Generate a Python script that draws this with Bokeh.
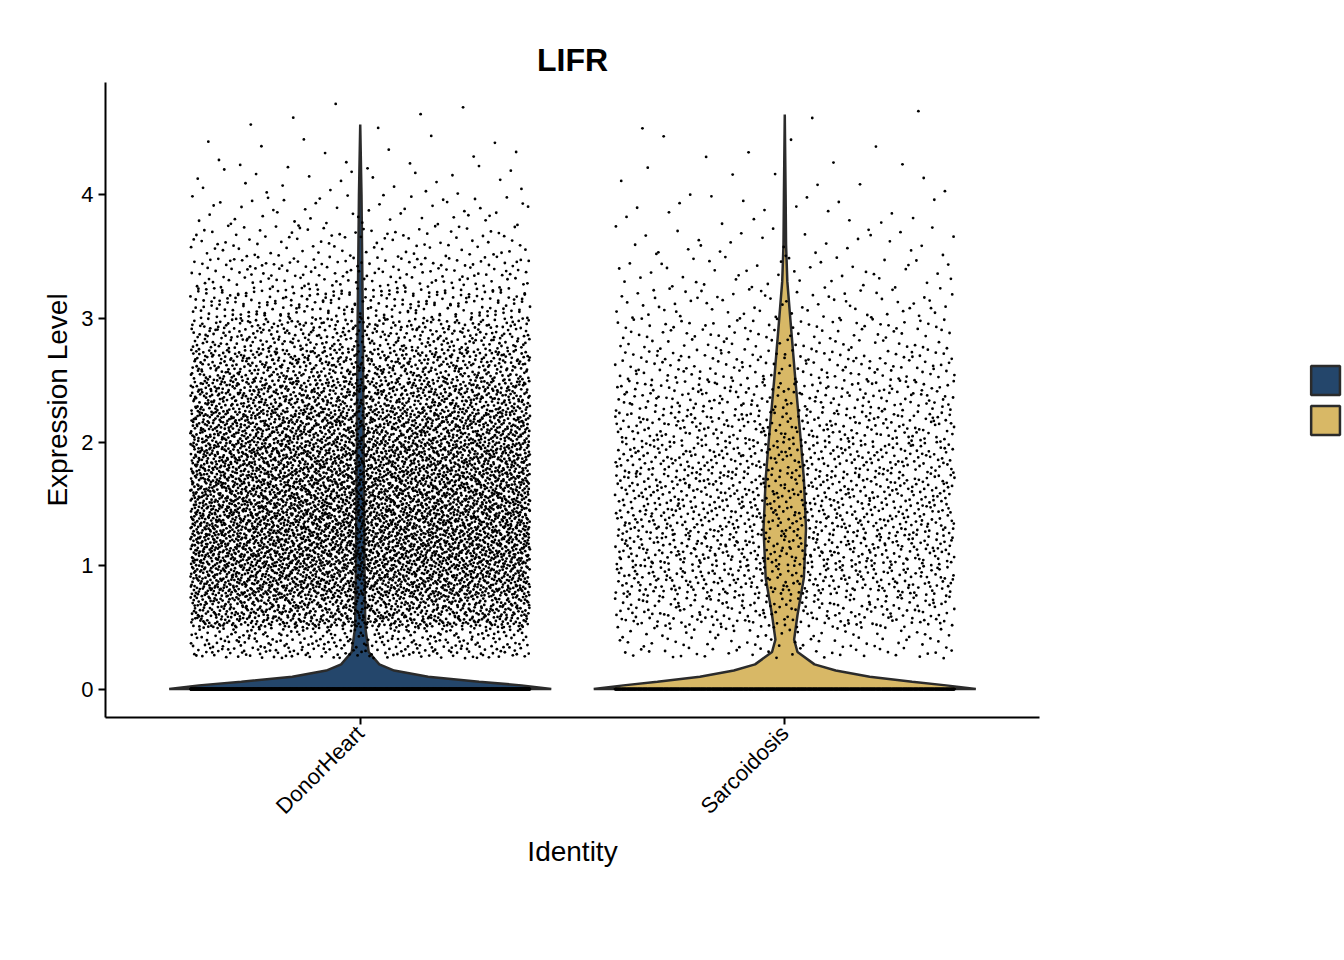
import numpy as np
from bokeh.plotting import figure
from bokeh.models import Range1d, FixedTicker, Legend, LegendItem
from bokeh.embed import file_html
from bokeh.resources import INLINE

categories = ["DonorHeart", "Sarcoidosis"]
colors = ["#24466B", "#D8B866"]
# violin half-width profile (y level, half width in category units)
donor_vy = [0, 0.03, 0.06, 0.1, 0.15, 0.2, 0.3, 0.5, 1.0, 2.0, 3.0, 4.0, 4.57]
donor_vw = [0.45, 0.38, 0.28, 0.16, 0.08, 0.045, 0.02, 0.012, 0.01, 0.008, 0.006, 0.003, 0.0]
sarc_vy = [0, 0.03, 0.06, 0.1, 0.15, 0.2, 0.3, 0.4, 0.6, 0.9, 1.3, 1.7, 2.0, 2.5, 3.0, 3.3, 3.6, 4.0, 4.65]
sarc_vw = [0.45, 0.38, 0.3, 0.2, 0.12, 0.07, 0.03, 0.022, 0.03, 0.045, 0.05, 0.045, 0.038, 0.025, 0.013, 0.006, 0.003, 0.002, 0.0]
# jittered point counts per 0.25-wide bin, starting at 0.25
bin_lo = [0.25 + 0.25 * i for i in range(18)]
donor_counts = [300, 700, 900, 1000, 1000, 950, 900, 800, 650, 500, 350, 230, 150, 90, 50, 25, 12, 6]
sarc_counts = [100, 200, 260, 280, 280, 270, 250, 220, 180, 140, 100, 70, 45, 30, 18, 10, 6, 3]
zero_counts = [3000, 1500]

def halton(i, b):
    f, r = 1.0, 0.0
    while i > 0:
        f /= b
        r += f * (i % b)
        i //= b
    return r

p = figure(frame_width=934, frame_height=635, output_backend="svg", toolbar_location=None,
           x_range=Range1d(0.4, 2.6), y_range=Range1d(-0.23, 4.91),
           min_border_left=105, min_border_right=10, min_border_top=82, min_border_bottom=215,
           title="LIFR")
p.title.text_font = "Liberation Sans"; p.title.text_font_size = "32px"
p.title.text_font_style = "bold"; p.title.align = "center"; p.title.text_color = "black"
p.grid.visible = False
p.outline_line_color = None
p.background_fill_color = "white"

def violin(cx, vy, vw, color):
    vy = np.array(vy); vw = np.array(vw)
    xs = list(cx - vw) + list((cx + vw)[::-1])
    ys = list(vy) + list(vy[::-1])
    return p.patch(xs, ys, fill_color=color, line_color="#2b2b2b", line_width=2.5)

r1 = violin(1, donor_vy, donor_vw, colors[0])
r2 = violin(2, sarc_vy, sarc_vw, colors[1])

for cx, counts, nz, off in [(1, donor_counts, zero_counts[0], 17), (2, sarc_counts, zero_counts[1], 5003)]:
    xs, ys = [], []
    k = off
    for lo, c in zip(bin_lo, counts):
        for i in range(c):
            k += 1
            xs.append(cx + (halton(k, 2) * 2 - 1) * 0.4)
            ys.append(lo + halton(k, 3) * 0.25)
    for i in range(nz):
        k += 1
        xs.append(cx + (halton(k, 2) * 2 - 1) * 0.4)
        ys.append(0.0)
    p.scatter(xs, ys, size=2.8, color="black", line_width=0)

p.xaxis.ticker = FixedTicker(ticks=[1, 2])
p.xaxis.major_label_overrides = {1: categories[0], 2: categories[1]}
p.xaxis.major_label_orientation = np.pi / 4
p.yaxis.ticker = FixedTicker(ticks=[0, 1, 2, 3, 4])
p.xaxis.axis_label = "Identity"; p.yaxis.axis_label = "Expression Level"
for ax in (p.xaxis[0], p.yaxis[0]):
    ax.axis_line_width = 2; ax.major_tick_line_width = 2
    ax.major_tick_in = 0; ax.major_tick_out = 7
    ax.minor_tick_line_color = None
    ax.major_label_text_font = "Liberation Sans"; ax.major_label_text_font_size = "22px"
    ax.major_label_text_color = "black"
    ax.axis_label_text_font = "Liberation Sans"; ax.axis_label_text_font_size = "28px"
    ax.axis_label_text_font_style = "normal"; ax.axis_label_text_color = "black"

legend = Legend(items=[LegendItem(label=categories[0], renderers=[r1]),
                       LegendItem(label=categories[1], renderers=[r2])],
                location="center", glyph_width=36, glyph_height=36, spacing=4,
                margin=36, padding=4,
                label_text_font="Liberation Sans", label_text_font_size="23px",
                label_text_color="black",
                border_line_color=None, background_fill_alpha=0)
p.add_layout(legend, "right")

open("out.html", "w").write(file_html(p, INLINE))
